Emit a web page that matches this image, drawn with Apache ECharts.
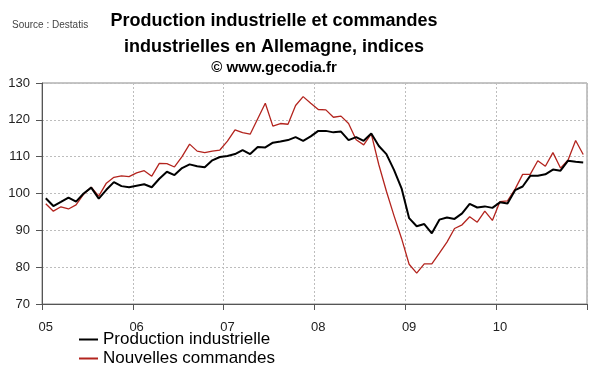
<!DOCTYPE html>
<html>
<head>
<meta charset="utf-8">
<script src="https://cdn.jsdelivr.net/npm/echarts@6/dist/echarts.min.js"></script>
<style>
html,body{margin:0;padding:0;background:#fff;}
#c{width:600px;height:372px;}
</style>
</head>
<body>
<div id="c"></div>
<script>
// Monthly categories Jan 2005 .. Dec 2010
const years = ['05','06','07','08','09','10'];
const months = ['01','02','03','04','05','06','07','08','09','10','11','12'];
const categories = [];
years.forEach(y => months.forEach(m => categories.push(y + '-' + m)));

const production = [
  98.7, 96.6, 97.7, 98.9, 97.8, 100.0, 101.6, 98.6, 101.0, 103.1, 102.0, 101.7,
  102.1, 102.5, 101.7, 104.0, 105.9, 105.0, 106.9, 107.9, 107.4, 107.1, 109.0, 109.9,
  110.2, 110.7, 111.8, 110.7, 112.6, 112.5, 113.8, 114.1, 114.5, 115.3, 114.3, 115.5,
  117.0, 117.0, 116.6, 116.8, 114.5, 115.3, 114.3, 116.3, 112.9, 110.7, 106.4, 101.4,
  93.3, 91.1, 91.7, 89.2, 92.9, 93.5, 93.1, 94.6, 97.2, 96.2, 96.5, 96.1,
  97.6, 97.3, 100.9, 101.9, 104.8, 104.8, 105.2, 106.5, 106.2, 108.9, 108.6, 108.4
];
const commandes = [
  97.2, 95.2, 96.4, 95.8, 96.9, 99.8, 101.7, 99.3, 102.8, 104.4, 104.8, 104.6,
  105.6, 106.2, 104.7, 108.2, 108.1, 107.2, 110.0, 113.4, 111.5, 111.1, 111.5, 111.8,
  114.2, 117.3, 116.5, 116.1, 120.3, 124.5, 118.3, 119.0, 118.8, 123.9, 126.3, 124.5,
  122.8, 122.7, 120.7, 121.0, 119.0, 114.6, 113.2, 116.2, 107.8, 100.6, 94.0, 87.8,
  80.8, 78.4, 80.9, 80.9, 83.8, 86.8, 90.5, 91.5, 93.7, 92.2, 95.2, 92.7,
  97.8, 98.0, 101.2, 105.2, 105.2, 108.9, 107.4, 111.1, 106.9, 109.1, 114.4, 110.6
];
const seriesNames = ['Production industrielle', 'Nouvelles commandes'];
const titleLines = ['Production industrielle et commandes', 'industrielles en Allemagne, indices'];
const subtitle = '\u00A9 www.gecodia.fr';
const sourceText = 'Source : Destatis';

const FONT = '"Liberation Sans", Arial, sans-serif';
const legendBase = {
  orient: 'horizontal',
  left: 74,
  padding: 5,
  itemWidth: 19,
  itemHeight: 2,
  icon: 'rect',
  textStyle: {fontFamily: FONT, fontSize: 17, color: '#000'}
};
const chart = echarts.init(document.getElementById('c'), null, {renderer: 'canvas'});
chart.setOption({
  animation: false,
  backgroundColor: '#fff',
  graphic: [
    {type: 'text', x: 12, y: 25, style: {text: sourceText, fontFamily: FONT, fontSize: 10, fill: '#444', verticalAlign: 'middle'}},
    {type: 'text', x: 274, y: 21, style: {text: titleLines[0], fontFamily: FONT, fontSize: 18, fontWeight: 'bold', fill: '#000', align: 'center', verticalAlign: 'middle'}},
    {type: 'text', x: 274, y: 47, style: {text: titleLines[1], fontFamily: FONT, fontSize: 18, fontWeight: 'bold', fill: '#000', align: 'center', verticalAlign: 'middle'}},
    {type: 'text', x: 274, y: 68, style: {text: subtitle, fontFamily: FONT, fontSize: 15, fontWeight: 'bold', fill: '#000', align: 'center', verticalAlign: 'middle'}}
  ],
  legend: [
    Object.assign({}, legendBase, {top: 326, data: [seriesNames[0]]}),
    Object.assign({}, legendBase, {top: 345, data: [seriesNames[1]]})
  ],
  grid: {left: 42, right: 13, top: 83, bottom: 68, show: true, borderColor: '#8a8a8a', borderWidth: 1},
  xAxis: {
    type: 'category',
    data: categories,
    boundaryGap: true,
    axisLine: {lineStyle: {color: '#555', width: 1}},
    axisTick: {show: true, interval: 11, length: 6, lineStyle: {color: '#555'}},
    axisLabel: {interval: 11, margin: 17, fontFamily: FONT, fontSize: 13, color: '#222',
      formatter: v => v.slice(0, 2)},
    splitLine: {show: true, interval: 11, lineStyle: {color: '#bdbdbd', type: [2, 2], width: 1}}
  },
  yAxis: {
    type: 'value',
    min: 70, max: 130, interval: 10,
    axisLine: {show: true, lineStyle: {color: '#555', width: 1}},
    axisTick: {show: true, length: 6, lineStyle: {color: '#555'}},
    axisLabel: {margin: 12, fontFamily: FONT, fontSize: 13, color: '#222'},
    splitLine: {show: true, lineStyle: {color: '#bdbdbd', type: [2, 2], width: 1}}
  },
  series: [
    {name: seriesNames[0], type: 'line', data: production, symbol: 'none', z: 3,
      lineStyle: {color: '#000', width: 2}, itemStyle: {color: '#000'}},
    {name: seriesNames[1], type: 'line', data: commandes, symbol: 'none', z: 2,
      lineStyle: {color: '#b3241e', width: 1.3}, itemStyle: {color: '#b3241e'}}
  ]
});
</script>
</body>
</html>
